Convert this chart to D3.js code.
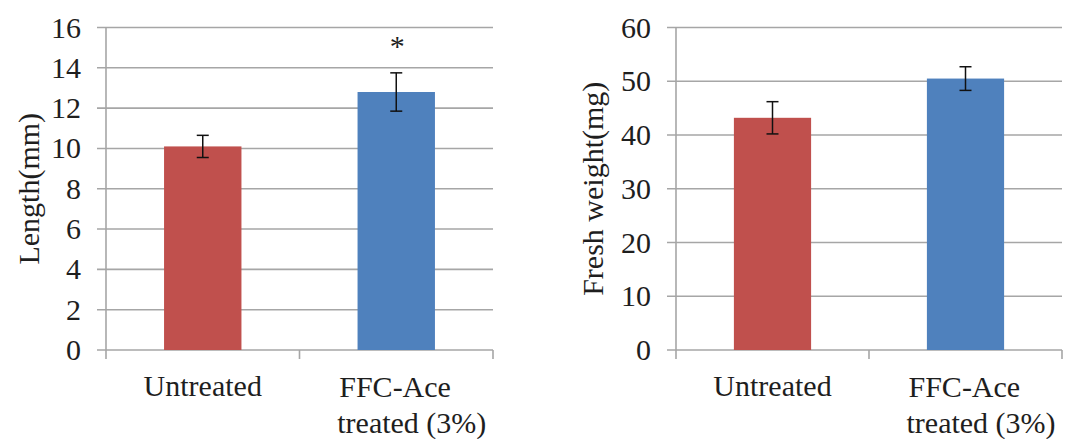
<!DOCTYPE html>
<html><head><meta charset="utf-8">
<script src="https://cdn.jsdelivr.net/npm/d3@7/dist/d3.min.js"></script>
<style>body{margin:0;background:#fff}</style>
</head><body><svg id="c" width="1078" height="439" font-family="Liberation Serif, Tinos, Times New Roman, Times, serif" style="font-family:'Liberation Serif','Tinos','Times New Roman',Times,serif"></svg>
<script>
const categories = ["Untreated", "FFC-Ace treated (3%)"];
const lengthValues = [10.1, 12.8];
const lengthErrors = [0.55, 0.95];
const lengthTicks = [0, 2, 4, 6, 8, 10, 12, 14, 16];
const lengthSignif = ["", "*"];
const weightValues = [43.2, 50.5];
const weightErrors = [3.0, 2.2];
const weightTicks = [0, 10, 20, 30, 40, 50, 60];
const weightSignif = ["", ""];
const barColors = ["#c0504d", "#4f81bd"];

const svg = d3.select("#c");
const FS = 30;
const GRID = "#a6a6a6";
const TXT = "#1e1e1e";

function txt(sel) {
  return sel.attr("font-size", FS).attr("fill", TXT);
}

function panel(opts) {
  const {left, right, top, bottom, values, errors, ticks, title, titleX, signif} = opts;
  const g = svg.append("g");
  const x = d3.scaleBand().domain(categories).range([left, right]).paddingInner(0).paddingOuter(0);
  const y = d3.scaleLinear().domain([0, d3.max(ticks)]).range([bottom, top]);

  g.selectAll("line.grid").data(ticks).join("line")
    .attr("x1", left - 9).attr("x2", right)
    .attr("y1", d => y(d)).attr("y2", d => y(d))
    .attr("stroke", GRID).attr("stroke-width", 1.6);
  g.append("line").attr("x1", left).attr("x2", left).attr("y1", top).attr("y2", bottom + 9)
    .attr("stroke", GRID).attr("stroke-width", 1.6);
  const bounds = categories.map(c => x(c) + x.bandwidth());
  g.selectAll("line.xt").data(bounds).join("line")
    .attr("x1", d => d).attr("x2", d => d).attr("y1", bottom).attr("y2", bottom + 9)
    .attr("stroke", GRID).attr("stroke-width", 1.6);

  txt(g.selectAll("text.yt").data(ticks).join("text"))
    .attr("x", left - 25).attr("y", d => y(d) + 10)
    .attr("text-anchor", "end")
    .text(d => d);

  const bw = x.bandwidth() * 0.4;
  g.selectAll("rect.bar").data(values).join("rect")
    .attr("x", (d, i) => x(categories[i]) + x.bandwidth() / 2 - bw / 2)
    .attr("width", bw)
    .attr("y", d => y(d)).attr("height", d => y(0) - y(d))
    .attr("fill", (d, i) => barColors[i]);

  const eb = g.selectAll("g.eb").data(values).join("g")
    .attr("stroke", "#111").attr("stroke-width", 1.5);
  eb.each(function(d, i) {
    const cx = x(categories[i]) + x.bandwidth() / 2;
    const s = d3.select(this);
    const y1 = y(d + errors[i]), y2 = y(d - errors[i]);
    s.append("line").attr("x1", cx).attr("x2", cx).attr("y1", y1).attr("y2", y2);
    s.append("line").attr("x1", cx - 6).attr("x2", cx + 6).attr("y1", y1).attr("y2", y1);
    s.append("line").attr("x1", cx - 6).attr("x2", cx + 6).attr("y1", y2).attr("y2", y2);
  });

  txt(g.selectAll("text.sig").data(values).join("text"))
    .attr("x", (d, i) => x(categories[i]) + x.bandwidth() / 2 + 1)
    .attr("y", (d, i) => y(d + errors[i]) - 17)
    .attr("text-anchor", "middle")
    .text((d, i) => signif[i]);

  categories.forEach((c, i) => {
    const cx = x(c) + x.bandwidth() / 2;
    if (i === 0) {
      txt(g.append("text")).attr("x", cx).attr("y", bottom + 46).attr("text-anchor", "middle").text(c);
    } else {
      const parts = ["FFC-Ace", "treated (3%)"];
      txt(g.append("text")).attr("x", cx - 57).attr("y", bottom + 47).attr("text-anchor", "start").text(parts[0]);
      txt(g.append("text")).attr("x", cx - 59).attr("y", bottom + 83).attr("text-anchor", "start").text(parts[1]);
    }
  });

  txt(g.append("text"))
    .attr("transform", `translate(${titleX},${(top + bottom) / 2}) rotate(-90)`)
    .attr("text-anchor", "middle")
    .text(title);
}

panel({left: 106, right: 493, top: 27.5, bottom: 350, values: lengthValues, errors: lengthErrors,
  ticks: lengthTicks, title: "Length(mm)", titleX: 39, signif: lengthSignif});
panel({left: 676, right: 1062, top: 27.5, bottom: 350, values: weightValues, errors: weightErrors,
  ticks: weightTicks, title: "Fresh weight(mg)", titleX: 603, signif: weightSignif});
</script>
</body></html>
